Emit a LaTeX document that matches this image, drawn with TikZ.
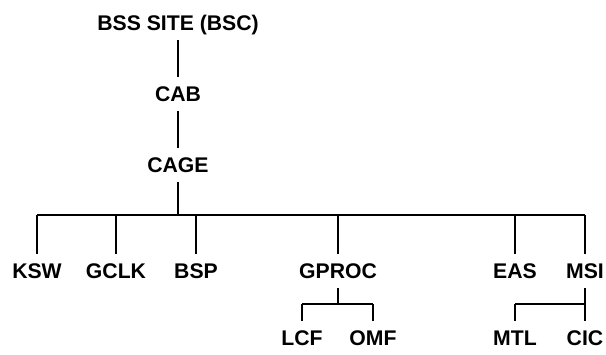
\documentclass[tikz,border=0pt]{standalone}
\usepackage{fontspec}
\setmainfont{Liberation Sans}
\begin{document}
\begin{tikzpicture}[x=1pt,y=-1pt,
  lbl/.style={font=\fontsize{21.2}{26}\selectfont\bfseries, inner sep=0pt,
    text height=15.2pt, text depth=0pt, minimum height=34pt},
  conn/.style={line width=1.2pt, black},
  trunk/.style={line width=1.8pt, black}]
\useasboundingbox (0,0) rectangle (606,354);
\node[lbl] (bss) at (178,22.5) {BSS SITE (BSC)};
\node[lbl] (cab) at (178,94) {CAB};
\node[lbl] (cage) at (178,165) {CAGE};
\node[lbl] (ksw) at (37,271) {KSW};
\node[lbl] (gclk) at (116,271) {GCLK};
\node[lbl] (bsp) at (196,271) {BSP};
\node[lbl] (gproc) at (338,271) {GPROC};
\node[lbl] (eas) at (515,271) {EAS};
\node[lbl] (msi) at (585,271) {MSI};
\node[lbl] (lcf) at (302,338) {LCF};
\node[lbl] (omf) at (373,338) {OMF};
\node[lbl] (mtl) at (515,338) {MTL};
\node[lbl] (cic) at (585,338) {CIC};
\coordinate (bar) at (178,215);
\coordinate (gbar) at (338,304);
\coordinate (mbar) at (585,304);
\draw[conn] (bss.south) -- (cab.north);
\draw[conn] (cab.south) -- (cage.north);
\draw[trunk] (cage.south) -- (bar);
\draw[trunk] (ksw.north |- bar) -- (msi.north |- bar);
\foreach \n in {ksw,gclk,bsp,gproc,eas,msi}
  \draw[conn] (\n.north |- bar) -- (\n.north);
\draw[conn] (gproc.south) -- (gbar);
\draw[conn] (lcf.north |- gbar) -- (omf.north |- gbar);
\draw[conn] (lcf.north |- gbar) -- (lcf.north);
\draw[conn] (omf.north |- gbar) -- (omf.north);
\draw[conn] (msi.south) -- (cic.north);
\draw[conn] (mtl.north |- mbar) -- (mbar);
\draw[conn] (mtl.north |- mbar) -- (mtl.north);
\end{tikzpicture}
\end{document}
